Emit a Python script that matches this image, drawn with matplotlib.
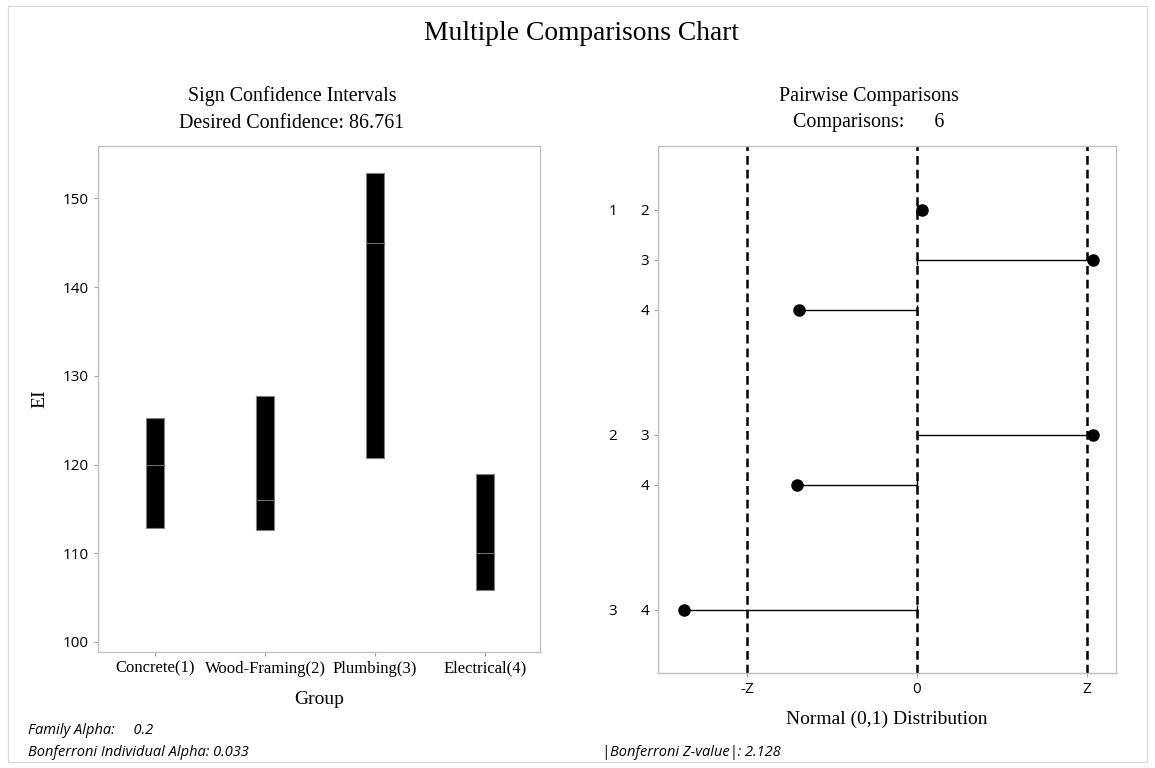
import numpy as np
import matplotlib.pyplot as plt
import matplotlib.transforms as mtransforms
from matplotlib.patches import Rectangle

# sign confidence intervals (left panel)
groups = ["Concrete(1)", "Wood-Framing(2)", "Plumbing(3)", "Electrical(4)"]
ci_low = [112.8, 112.6, 120.7, 105.9]
ci_high = [125.2, 127.7, 152.9, 118.9]
medians = [120.0, 116.0, 145.0, 110.0]

# pairwise comparisons (right panel)
pair_first = ["1", "1", "1", "2", "2", "3"]
pair_second = ["2", "3", "4", "3", "4", "4"]
pair_rows = [1, 2, 3, 5.5, 6.5, 9]
pair_z = [0.06, 2.20, -1.47, 2.20, -1.50, -2.92]
z_crit = 2.128

serif = "Liberation Serif"
sans = "Open Sans"
edge = "#c0c0c0"
W, H = 1155, 768

fig = plt.figure(figsize=(11.55, 7.68), dpi=100)
fig.patches.append(Rectangle((8 / W, 6 / H), 1 - 16 / W, 1 - 12 / H,
                             transform=fig.transFigure, fill=False,
                             edgecolor="#d8d8d8", lw=0.8))

fig.text(581 / W, 1 - 34 / H, "Multiple Comparisons Chart", ha="center",
         va="center", family=serif, fontsize=19.8)

# ---- left panel
ax1 = fig.add_axes([0.0846, 0.1514, 0.3829, 0.6585])
x = np.arange(1, len(groups) + 1)
ax1.bar(x, np.array(ci_high) - np.array(ci_low), bottom=ci_low, width=0.165,
        color="black", edgecolor="#808080", linewidth=0.8)
for xi, m in zip(x, medians):
    ax1.plot([xi - 0.0825, xi + 0.0825], [m, m], color="#6a6a6a", lw=0.8)
ax1.set_xlim(0.475, 4.5)
ax1.set_ylim(98.9, 155.9)
ax1.set_yticks([100, 110, 120, 130, 140, 150])
ax1.set_xticks(x)
ax1.set_xticklabels(groups, family=serif, fontsize=12)
for lab in ax1.get_yticklabels():
    lab.set_family(sans)
    lab.set_fontsize(11)
ax1.set_ylabel("EI", family=serif, fontsize=14, labelpad=10)
ax1.set_xlabel("Group", family=serif, fontsize=14, labelpad=10)
fig.text(292 / W, 1 - 96 / H, "Sign Confidence Intervals", ha="center",
         va="center", family=serif, fontsize=14.4)
fig.text(292 / W, 1 - 123 / H, "Desired Confidence: 86.761", ha="center",
         va="center", family=serif, fontsize=14.4)

# ---- right panel
ax2 = fig.add_axes([0.5697, 0.1237, 0.3965, 0.6862])
for zc in [-z_crit, 0, z_crit]:
    ax2.axvline(zc, color="black", lw=1.8, linestyle=(0, (3.5, 2)), zorder=1)
for yr, zv in zip(pair_rows, pair_z):
    ax2.plot([0, zv], [yr, yr], color="black", lw=1, zorder=2)
    ax2.plot([0], [yr], marker="|", color="black", ms=7, mew=1, zorder=2)
ax2.plot(pair_z, pair_rows, "o", color="black", ms=8, zorder=3)
ax2.set_xlim(-3.24, 2.49)
ax2.set_ylim(10.26, -0.28)
ax2.set_xticks([-z_crit, 0, z_crit])
ax2.set_xticklabels(["-Z", "0", "Z"], family=sans, fontsize=11)
ax2.set_yticks(pair_rows)
ax2.set_yticklabels(pair_second, family=sans, fontsize=11)
trans = mtransforms.blended_transform_factory(ax2.transAxes, ax2.transData)
shown = set()
for yr, g in zip(pair_rows, pair_first):
    if g not in shown:
        ax2.text(-0.098, yr, g, transform=trans, ha="center",
                 va="center_baseline", family=sans, fontsize=11)
        shown.add(g)
ax2.set_xlabel("Normal (0,1) Distribution", family=serif, fontsize=14,
               labelpad=10)
fig.text(869 / W, 1 - 96 / H, "Pairwise Comparisons", ha="center",
         va="center", family=serif, fontsize=14.4)
fig.text(869 / W, 1 - 123 / H, "Comparisons:      6", ha="center",
         va="center", family=serif, fontsize=14.4)

for ax in (ax1, ax2):
    for s in ax.spines.values():
        s.set_color(edge)
        s.set_linewidth(1)
    ax.tick_params(length=3, color="#a0a0a0", width=0.8)

# ---- footnotes
fig.text(28 / W, 1 - 730 / H, "Family Alpha:     0.2", style="italic",
         family=sans, fontsize=10.5, va="center")
fig.text(28 / W, 1 - 752 / H, "Bonferroni Individual Alpha: 0.033",
         style="italic", family=sans, fontsize=10.5, va="center")
fig.text(602 / W, 1 - 752 / H, "|Bonferroni Z-value|: 2.128",
         style="italic", family=sans, fontsize=10.5, va="center")

fig.savefig("out.png", dpi=100)
